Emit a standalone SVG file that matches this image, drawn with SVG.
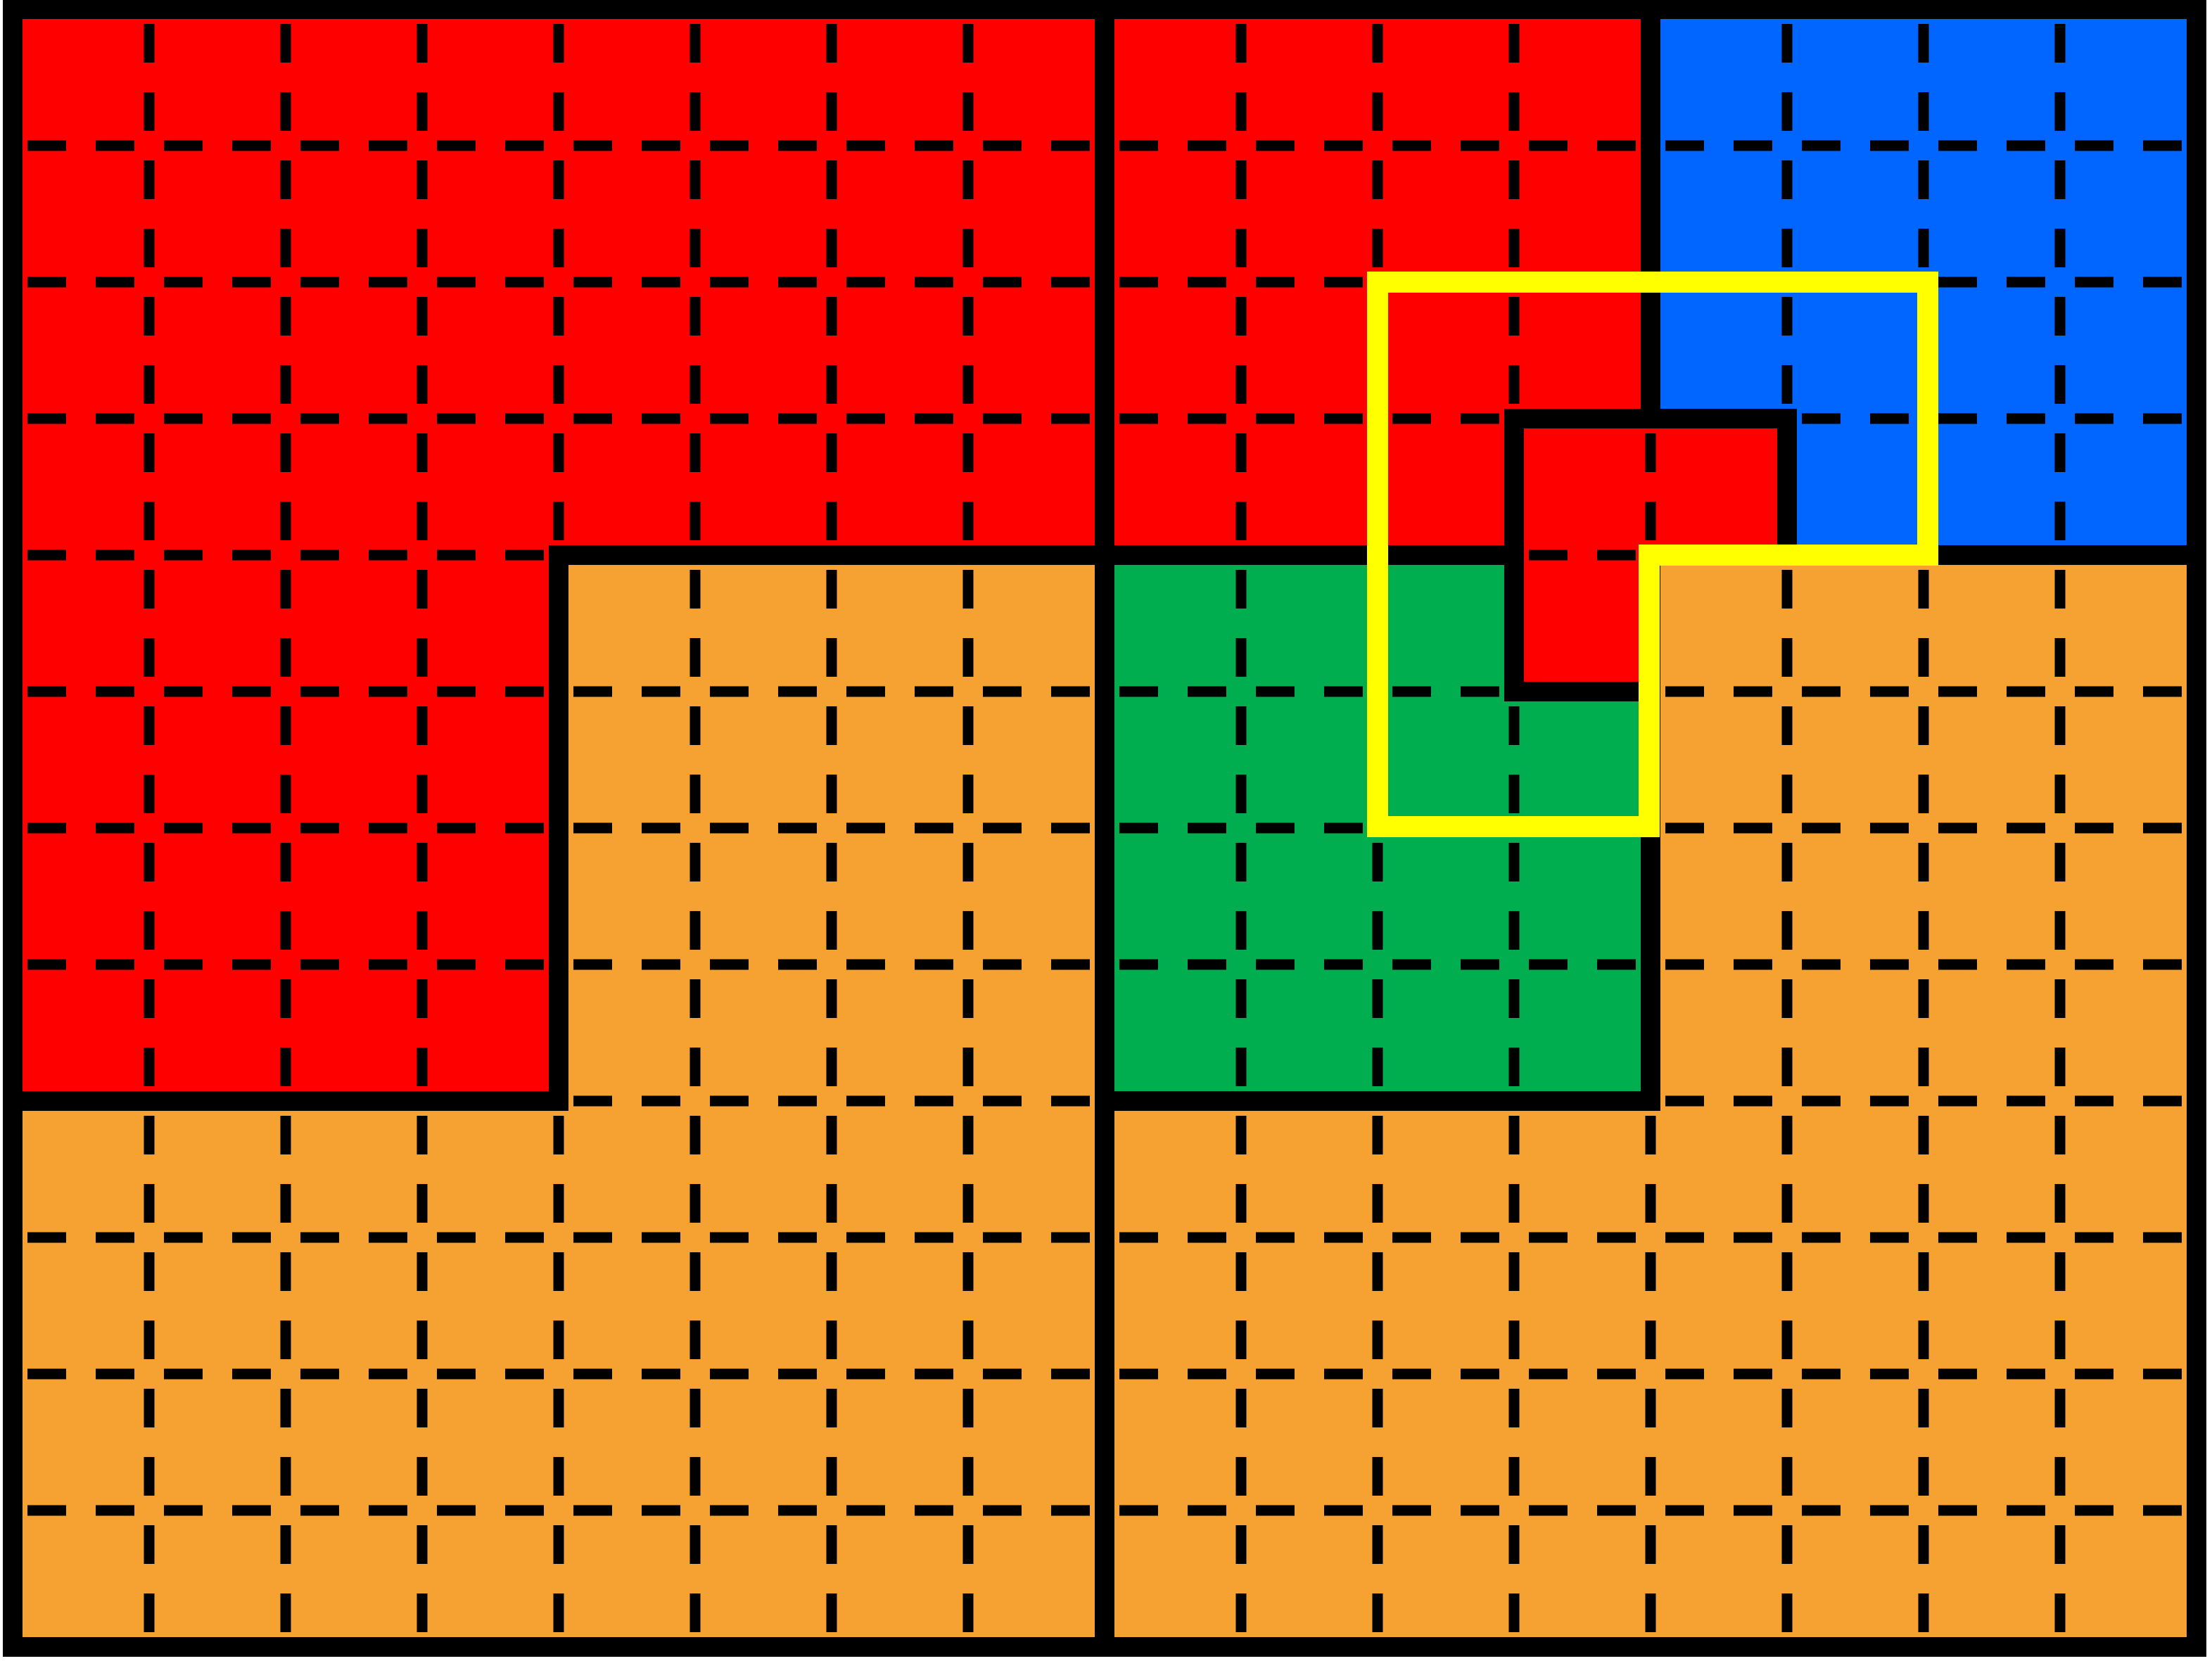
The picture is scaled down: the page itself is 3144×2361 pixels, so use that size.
<svg xmlns="http://www.w3.org/2000/svg" width="3144" height="2361" viewBox="0 0 3144 2361">
<style>
.red{fill:#FF0000}
.orange{fill:#F5A232}
.green{fill:#00AE4F}
.blue{fill:#0066FF}
.grid line{stroke:#000;stroke-width:15;stroke-dasharray:55 42;stroke-dashoffset:76}
.edge{fill:none;stroke:#000;stroke-width:28;stroke-linejoin:miter}
.sel{fill:none;stroke:#FFFF00;stroke-width:30;stroke-linejoin:miter}
</style>
<rect width="3144" height="2361" fill="#FFFFFF"/>
<g id="regions">
<polygon id="red-a" class="red" points="18,13 1570,13 1570,789 794,789 794,1565 18,1565"/>
<polygon id="orange-b" class="orange" points="794,789 1570,789 1570,2341 18,2341 18,1565 794,1565"/>
<polygon id="red-c" class="red" points="1570,13 2346,13 2346,595 2152,595 2152,789 1570,789"/>
<polygon id="blue-d" class="blue" points="2346,13 3122,13 3122,789 2540,789 2540,595 2346,595"/>
<polygon id="red-e" class="red" points="2152,595 2540,595 2540,789 2346,789 2346,983 2152,983"/>
<polygon id="green-f" class="green" points="1570,789 2152,789 2152,983 2346,983 2346,1565 1570,1565"/>
<polygon id="orange-g" class="orange" points="2346,789 3122,789 3122,2341 1570,2341 1570,1565 2346,1565"/>
</g>
<g id="grid" class="grid">
<line x1="212" y1="13" x2="212" y2="2341"/>
<line x1="406" y1="13" x2="406" y2="2341"/>
<line x1="600" y1="13" x2="600" y2="2341"/>
<line x1="794" y1="13" x2="794" y2="2341"/>
<line x1="988" y1="13" x2="988" y2="2341"/>
<line x1="1182" y1="13" x2="1182" y2="2341"/>
<line x1="1376" y1="13" x2="1376" y2="2341"/>
<line x1="1764" y1="13" x2="1764" y2="2341"/>
<line x1="1958" y1="13" x2="1958" y2="2341"/>
<line x1="2152" y1="13" x2="2152" y2="2341"/>
<line x1="2346" y1="13" x2="2346" y2="2341"/>
<line x1="2540" y1="13" x2="2540" y2="2341"/>
<line x1="2734" y1="13" x2="2734" y2="2341"/>
<line x1="2928" y1="13" x2="2928" y2="2341"/>
<line x1="18" y1="207" x2="3122" y2="207"/>
<line x1="18" y1="401" x2="3122" y2="401"/>
<line x1="18" y1="595" x2="3122" y2="595"/>
<line x1="18" y1="789" x2="3122" y2="789"/>
<line x1="18" y1="983" x2="3122" y2="983"/>
<line x1="18" y1="1177" x2="3122" y2="1177"/>
<line x1="18" y1="1371" x2="3122" y2="1371"/>
<line x1="18" y1="1565" x2="3122" y2="1565"/>
<line x1="18" y1="1759" x2="3122" y2="1759"/>
<line x1="18" y1="1953" x2="3122" y2="1953"/>
<line x1="18" y1="2147" x2="3122" y2="2147"/>
</g>
<g id="borders">
<polygon class="edge" points="18,13 1570,13 1570,789 794,789 794,1565 18,1565"/>
<polygon class="edge" points="794,789 1570,789 1570,2341 18,2341 18,1565 794,1565"/>
<polygon class="edge" points="1570,13 2346,13 2346,595 2152,595 2152,789 1570,789"/>
<polygon class="edge" points="2346,13 3122,13 3122,789 2540,789 2540,595 2346,595"/>
<polygon class="edge" points="2152,595 2540,595 2540,789 2346,789 2346,983 2152,983"/>
<polygon class="edge" points="1570,789 2152,789 2152,983 2346,983 2346,1565 1570,1565"/>
<polygon class="edge" points="2346,789 3122,789 3122,2341 1570,2341 1570,1565 2346,1565"/>
</g>
<g id="selection">
<polygon class="sel" points="1958,401 2740,401 2740,789 2344,789 2344,1175 1958,1175"/>
</g>
</svg>
